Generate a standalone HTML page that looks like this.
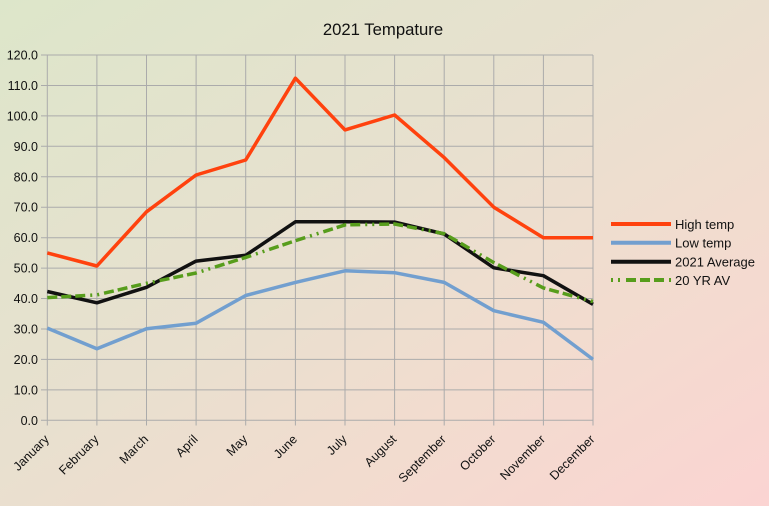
<!DOCTYPE html>
<html>
<head>
<meta charset="utf-8">
<style>
html,body{margin:0;padding:0;}
body{width:769px;height:506px;overflow:hidden;background:linear-gradient(to bottom right,#dde6ca 0%,#e8e0cf 45%,#f2dccf 70%,#fbd4d2 100%);}
svg{display:block;}
text{font-family:"Liberation Sans",Arial,sans-serif;fill:#111;}
</style>
</head>
<body>
<svg width="769" height="506" viewBox="0 0 769 506" xmlns="http://www.w3.org/2000/svg">
  <text x="383" y="35" font-size="16.7" text-anchor="middle">2021 Tempature</text>

  <!-- horizontal gridlines -->
  <g stroke="#ababab" stroke-width="1" fill="none">
    <line x1="41" y1="420.3" x2="593" y2="420.3"/>
    <line x1="41" y1="389.9" x2="593" y2="389.9"/>
    <line x1="41" y1="359.4" x2="593" y2="359.4"/>
    <line x1="41" y1="329.0" x2="593" y2="329.0"/>
    <line x1="41" y1="298.5" x2="593" y2="298.5"/>
    <line x1="41" y1="268.1" x2="593" y2="268.1"/>
    <line x1="41" y1="237.7" x2="593" y2="237.7"/>
    <line x1="41" y1="207.2" x2="593" y2="207.2"/>
    <line x1="41" y1="176.8" x2="593" y2="176.8"/>
    <line x1="41" y1="146.3" x2="593" y2="146.3"/>
    <line x1="41" y1="115.9" x2="593" y2="115.9"/>
    <line x1="41" y1="85.5" x2="593" y2="85.5"/>
    <line x1="41" y1="55.0" x2="593" y2="55.0"/>
    <!-- vertical gridlines -->
    <line x1="47.3" y1="55" x2="47.3" y2="425.5"/>
    <line x1="96.9" y1="55" x2="96.9" y2="425.5"/>
    <line x1="146.5" y1="55" x2="146.5" y2="425.5"/>
    <line x1="196.1" y1="55" x2="196.1" y2="425.5"/>
    <line x1="245.7" y1="55" x2="245.7" y2="425.5"/>
    <line x1="295.4" y1="55" x2="295.4" y2="425.5"/>
    <line x1="345.0" y1="55" x2="345.0" y2="425.5"/>
    <line x1="394.6" y1="55" x2="394.6" y2="425.5"/>
    <line x1="444.2" y1="55" x2="444.2" y2="425.5"/>
    <line x1="493.8" y1="55" x2="493.8" y2="425.5"/>
    <line x1="543.4" y1="55" x2="543.4" y2="425.5"/>
    <line x1="593.0" y1="55" x2="593.0" y2="425.5"/>
  </g>

  <!-- y labels -->
  <g font-size="12.5" text-anchor="end">
    <text x="38" y="424.8">0.0</text>
    <text x="38" y="394.4">10.0</text>
    <text x="38" y="363.9">20.0</text>
    <text x="38" y="333.5">30.0</text>
    <text x="38" y="303.0">40.0</text>
    <text x="38" y="272.6">50.0</text>
    <text x="38" y="242.2">60.0</text>
    <text x="38" y="211.7">70.0</text>
    <text x="38" y="181.3">80.0</text>
    <text x="38" y="150.8">90.0</text>
    <text x="38" y="120.4">100.0</text>
    <text x="38" y="90.0">110.0</text>
    <text x="38" y="59.5">120.0</text>
  </g>

  <!-- x labels -->
  <g font-size="12.5" text-anchor="end">
    <text transform="translate(49.8,440) rotate(-45)">January</text>
    <text transform="translate(99.4,440) rotate(-45)">February</text>
    <text transform="translate(149,440) rotate(-45)">March</text>
    <text transform="translate(198.6,440) rotate(-45)">April</text>
    <text transform="translate(248.2,440) rotate(-45)">May</text>
    <text transform="translate(297.9,440) rotate(-45)">June</text>
    <text transform="translate(347.5,440) rotate(-45)">July</text>
    <text transform="translate(397.1,440) rotate(-45)">August</text>
    <text transform="translate(446.7,440) rotate(-45)">September</text>
    <text transform="translate(496.3,440) rotate(-45)">October</text>
    <text transform="translate(545.9,440) rotate(-45)">November</text>
    <text transform="translate(595.5,440) rotate(-45)">December</text>
  </g>

  <!-- series -->
  <g fill="none" stroke-width="3.5" stroke-linejoin="round" stroke-linecap="butt">
    <polyline stroke="#ff420e" points="47.3,252.9 96.9,266.0 146.5,211.8 196.1,175.0 245.7,160.0 295.4,78.2 345.0,129.9 394.6,115.0 444.2,157.6 493.8,207.2 543.4,237.7 593.0,237.7"/>
    <polyline stroke="#729fcf" points="47.3,328.1 96.9,348.8 146.5,328.7 196.1,323.2 245.7,295.5 295.4,282.4 345.0,270.8 394.6,272.7 444.2,282.4 493.8,310.7 543.4,322.3 593.0,359.4"/>
    <polyline stroke="#111111" points="47.3,291.5 96.9,302.8 146.5,287.3 196.1,261.1 245.7,255.3 295.4,221.8 345.0,221.8 394.6,222.1 444.2,234.0 493.8,267.8 543.4,275.7 593.0,304.3"/>
    <polyline stroke="#579d1c" stroke-dasharray="10 4 10 4 10 5 2 5 2 5" points="47.3,297.6 96.9,294.9 146.5,283.3 196.1,273.0 245.7,257.4 295.4,240.7 345.0,224.9 394.6,224.0 444.2,233.7 493.8,262.6 543.4,287.9 593.0,301.6"/>
  </g>

  <!-- legend -->
  <g fill="none" stroke-width="4">
    <line x1="611" y1="224" x2="671" y2="224" stroke="#ff420e"/>
    <line x1="611" y1="242.7" x2="671" y2="242.7" stroke="#729fcf"/>
    <line x1="611" y1="261.7" x2="671" y2="261.7" stroke="#111111"/>
    <line x1="611" y1="280" x2="671" y2="280" stroke="#579d1c" stroke-dasharray="2 5 2 6 10 4 10 4 10 5"/>
  </g>
  <g font-size="13">
    <text x="675" y="229">High temp</text>
    <text x="675" y="247.7">Low temp</text>
    <text x="675" y="266.7">2021 Average</text>
    <text x="675" y="285">20 YR AV</text>
  </g>
</svg>
</body>
</html>
